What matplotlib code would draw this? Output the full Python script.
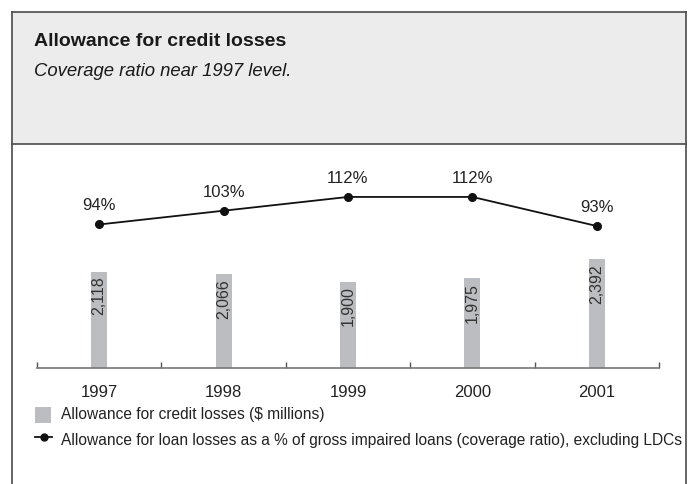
import numpy as np
import matplotlib.pyplot as plt
from matplotlib.patches import Rectangle
from matplotlib.lines import Line2D

years = ["1997", "1998", "1999", "2000", "2001"]
allowance = [2118, 2066, 1900, 1975, 2392]
coverage = [94, 103, 112, 112, 93]
bar_labels = ["2,118", "2,066", "1,900", "1,975", "2,392"]

title = "Allowance for credit losses"
subtitle = "Coverage ratio near 1997 level."
legend_bar = "Allowance for credit losses ($ millions)"
legend_line = ("Allowance for loan losses as a % of gross impaired loans "
               "(coverage ratio), excluding LDCs")

W, H = 698, 484
plt.rcParams["font.family"] = ["Liberation Sans", "DejaVu Sans"]

fig = plt.figure(figsize=(W / 100, H / 100), dpi=100)


def fx(px):
    return px / W


def fy(py):
    return 1 - py / H


# header panel and frame
fig.patches.append(Rectangle((fx(12), fy(144)), fx(674), (144 - 12) / H,
                             transform=fig.transFigure, facecolor="#ececec",
                             edgecolor="none", zorder=0))
frame_kw = dict(transform=fig.transFigure, color="#4a4a4a", lw=1.2)
fig.lines.append(Line2D([fx(12), fx(12)], [fy(12), 0], **frame_kw))
fig.lines.append(Line2D([fx(686), fx(686)], [fy(12), 0], **frame_kw))
fig.lines.append(Line2D([fx(12), fx(686)], [fy(12), fy(12)], **frame_kw))
fig.lines.append(Line2D([fx(12), fx(686)], [fy(144), fy(144)], **frame_kw))

fig.text(fx(34), fy(41), title, fontsize=14, fontweight="bold",
         va="center", color="#1a1a1a")
fig.text(fx(34), fy(72), subtitle, fontsize=13.3, fontstyle="italic",
         va="center", color="#1a1a1a")

# plot area: baseline at y=368, categories centred between ticks
top_px, base_px = 144, 368.3
ax = fig.add_axes([fx(37), 1 - base_px / H, fx(659 - 37), (base_px - top_px) / H])
x = np.arange(len(years))
ax.bar(x, allowance, width=0.13, color="#bcbdc0", zorder=2)
ax.set_xlim(-0.5, len(years) - 0.5)
ax.set_ylim(0, (base_px - top_px) * 21.95)
for xi, v, lab in zip(x, allowance, bar_labels):
    ax.annotate(lab, (xi, v), xytext=(0, -3.5), textcoords="offset points",
                rotation=90, ha="center", va="top", fontsize=11.5,
                color="#333333")

for s in ["top", "left", "right"]:
    ax.spines[s].set_visible(False)
ax.spines["bottom"].set_color("#777777")
ax.spines["bottom"].set_linewidth(1.2)
ax.set_yticks([])
ax.set_xticks(x)
ax.set_xticklabels(years, fontsize=12, color="#222222")
ax.tick_params(axis="x", which="major", length=0, pad=12)
ax.set_xticks(np.arange(-0.5, len(years)), minor=True)
ax.tick_params(axis="x", which="minor", direction="in", length=4,
               width=1, color="#555555")
ax.patch.set_visible(False)

ax2 = ax.twinx()
ax2.set_ylim(0, (base_px - top_px) / 1.53)
ax2.plot(x, coverage, color="#111111", lw=1.3, marker="o", ms=5.5,
         zorder=3)
for xi, v in zip(x, coverage):
    ax2.annotate(f"{v}%", (xi, v), xytext=(0, 8), textcoords="offset points",
                 ha="center", va="bottom", fontsize=12, color="#222222")
ax2.axis("off")

# legend
fig.patches.append(Rectangle((fx(35), fy(423)), fx(16), 16 / H,
                             transform=fig.transFigure, facecolor="#bcbdc0",
                             edgecolor="none"))
fig.text(fx(61), fy(415), legend_bar, fontsize=11.2, va="center",
         color="#222222")
fig.lines.append(Line2D([fx(35), fx(52)], [fy(437), fy(437)],
                        transform=fig.transFigure, color="#111111", lw=1.3))
fig.lines.append(Line2D([fx(43.5)], [fy(437)], transform=fig.transFigure,
                        color="#111111", marker="o", ms=5))
fig.text(fx(61), fy(440), legend_line, fontsize=11.2, va="center",
         color="#222222")

fig.savefig("out.png", dpi=100)
